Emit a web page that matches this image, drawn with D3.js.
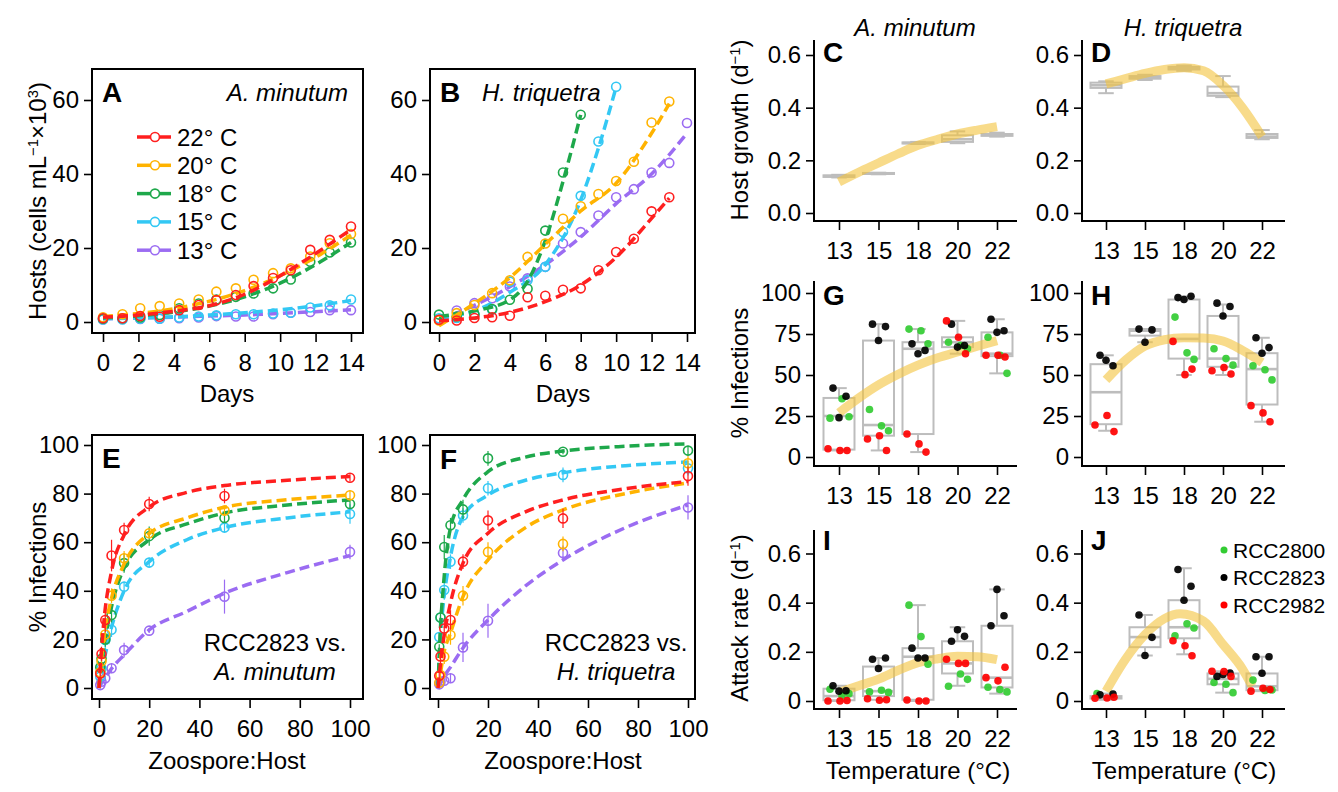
<!DOCTYPE html>
<html>
<head>
<meta charset="utf-8">
<script src="https://cdn.jsdelivr.net/npm/d3@7/dist/d3.min.js"></script>
<style>
  body { margin: 0; background: #fff; }
</style>
</head>
<body>
<svg id="fig" width="1338" height="792"></svg>
<script>
// ---------- values ----------
const temps = ["22° C", "20° C", "18° C", "15° C", "13° C"];

// A: A. minutum hosts (cells mL-1 x10^3) by day, one row per temperature
const daysA = [0, 1.1, 2.1, 3.2, 4.3, 5.4, 6.4, 7.5, 8.5, 9.6, 10.6, 11.7, 12.8, 14];
const hostsA = [
  [1.0, 1.0, 1.6, 1.4, 3.2, 4.6, 5.9, 7.3, 9.7, 11.9, 14.0, 19.5, 22.2, 25.8],
  [1.3, 2.1, 3.7, 4.3, 5.0, 6.1, 8.2, 9.1, 11.4, 13.2, 14.5, 17.7, 21.3, 23.8],
  [0.9, 1.0, 1.2, 1.9, 3.7, 5.0, 6.1, 6.8, 7.7, 9.1, 11.5, 16.3, 18.8, 21.5],
  [0.7, 0.7, 0.9, 0.9, 1.2, 1.5, 1.8, 2.1, 2.1, 2.3, 2.5, 3.9, 4.5, 6.1],
  [0.7, 0.8, 0.8, 0.9, 1.0, 1.2, 1.6, 1.5, 1.5, 2.1, 2.5, 2.7, 3.2, 3.2]
];
const fitDaysA = [0, 2, 4, 6, 8, 10, 12, 14];
const fitA = [
  [1.3, 1.9, 2.9, 4.4, 7.5, 12.5, 18.5, 25.0],
  [1.5, 2.3, 3.6, 5.6, 8.5, 12.5, 17.5, 23.5],
  [1.1, 1.7, 2.7, 4.3, 6.8, 10.5, 15.5, 21.5],
  [0.9, 1.1, 1.4, 1.9, 2.5, 3.3, 4.4, 5.8],
  [0.9, 1.1, 1.3, 1.6, 1.9, 2.3, 2.8, 3.3]
];

// B: H. triquetra hosts by day (days 0,1,2,...)
const daysB = [0, 1, 2, 3, 4, 5, 6, 7, 8, 9, 10, 11, 12, 13, 14];
const hostsB = [
  [0.6, 0.4, 1.1, 1.3, 1.7, 6.7, 7.1, 8.7, 9.1, 14.0, 18.9, 22.5, 29.9, 33.7],
  [0.4, 2.4, 4.6, 7.8, 11.3, 17.6, 21.2, 27.9, 31.3, 34.6, 38.1, 43.3, 53.9, 59.6],
  [2.0, 1.5, 2.0, 3.5, 6.0, 9.0, 24.7, 40.4, 56.0],
  [1.0, 1.1, 2.0, 3.3, 10.9, 11.3, 14.9, 24.3, 34.1, 48.8, 63.6],
  [0.6, 3.1, 5.1, 6.4, 9.6, 11.8, 14.9, 21.2, 24.3, 28.8, 33.7, 35.9, 40.4, 43.0, 53.8]
];
const fitDaysB = [
  [0, 2, 4, 6, 8, 10, 12, 13],
  [0, 2, 4, 6, 8, 10, 12, 13],
  [0, 2, 4, 5, 6, 7, 8],
  [0, 2, 4, 6, 8, 9, 10],
  [0, 2, 4, 6, 8, 10, 12, 14]
];
const fitB = [
  [0.3, 1.1, 2.6, 5.5, 10, 17.5, 28, 33.5],
  [-1, 5, 12, 21, 30, 37.5, 51, 59],
  [1.5, 3, 6, 11, 22, 38, 56],
  [1, 3, 8, 15.5, 33, 47, 63.5],
  [0.5, 4.5, 9.5, 15.5, 23, 32, 40, 51]
];

// E, F: % infections by zoospore:host ratio
const ratios = [0.5, 1, 2.5, 5, 10, 20, 50, 100];
const infE = [
  [6, 14, 28, 54.5, 65, 75.7, 79, 86.5],
  [6.5, 11, 22, 38, 53.4, 63.7, 73, 79.3],
  [8.5, 12, 20, 30, 51.4, 62.5, 70, 75.7],
  [4.7, 8, 19.8, 24, 41.7, 51.6, 66, 71.6],
  [1.2, 2.6, 4, 8.1, 15.6, 23.6, 37.6, 56]
];
const errE = [
  [2, 3, 5, 6.5, 3, 3, 3, 1.5],
  [1, 2, 3, 3, 3, 2, 2, 2],
  [1, 2, 3, 3, 4, 4, 2, 2],
  [1, 2, 4, 3, 2, 2, 2, 4],
  [1, 1, 1, 2, 3, 1, 7, 3]
];
const infF = [
  [5, 13, 24.5, 28, 52, 69, 69.8, 87.2],
  [2.2, 5.3, 12.9, 21.8, 38, 56, 59.3, 92.5],
  [17, 29, 58, 67, 73.5, 94.5, 97.2, 97.7],
  [21, 29, 40.3, 52, 71, 82.2, 87.7, 90.4],
  [1.5, 2.6, 3, 4, 16.7, 27.7, 55.6, 74.3]
];
const errF = [
  [2, 3, 4, 4, 3, 4, 4, 4],
  [1, 2, 3, 4, 4, 4, 3, 3],
  [1, 3, 5, 3, 4, 3, 1, 2],
  [1, 2, 4, 3, 3, 3, 3, 3],
  [1, 1, 1, 2, 6, 7, 3, 5]
];
const fitRatios = [0, 1, 2, 5, 10, 20, 35, 50, 75, 100];
const fitE = [
  [0, 16, 28, 48, 63, 74.5, 80.5, 83.3, 85.5, 87],
  [0, 12, 21, 37, 51, 63.5, 70, 74.4, 77.5, 79.4],
  [0, 10, 17, 33.5, 49.4, 61, 67.5, 72, 75.3, 77.4],
  [0, 7, 11.5, 25, 40, 52, 61, 66, 70, 72.5],
  [0, 2, 3.5, 8, 13.6, 23.9, 31.5, 39, 47.5, 54.5]
];
const fitF = [
  [0, 10, 18.5, 35, 51.4, 63.7, 72.5, 77.4, 82, 85],
  [0, 6, 12.7, 22.6, 37.6, 52.7, 66, 73.3, 80, 84.4],
  [0, 25, 40, 66, 77.5, 89, 95, 97.5, 99.5, 100.5],
  [0, 22, 33.5, 54, 70.5, 79.4, 85.5, 88.6, 91.5, 93],
  [0, 2, 4, 8.6, 16.5, 28, 42, 52.7, 66, 75.3]
];

// C-J: temperature categories, boxplot stats [min, q1, median, q3, max]
const tempCats = ["13", "15", "18", "20", "22"];
const strains = ["RCC2800", "RCC2823", "RCC2982"];

const growthAmin = [[0.135, 0.137, 0.14, 0.143, 0.145], [0.147, 0.149, 0.15, 0.152, 0.153],
  [0.262, 0.264, 0.266, 0.268, 0.27], [0.265, 0.27, 0.28, 0.295, 0.31], [0.29, 0.293, 0.296, 0.3, 0.305]];
const growthHtri = [[0.455, 0.475, 0.485, 0.495, 0.5], [0.505, 0.51, 0.515, 0.52, 0.525],
  [0.54, 0.545, 0.55, 0.555, 0.56], [0.44, 0.445, 0.455, 0.48, 0.52], [0.28, 0.285, 0.29, 0.3, 0.315]];
const infAminBox = [[4, 4.5, 25, 36, 42], [4, 13, 19.5, 71, 81], [3, 14, 66, 70, 78],
  [63, 67, 70, 73, 83], [51, 61.5, 63, 76, 84]];
const infHtriBox = [[16, 20, 39.5, 56.6, 62], [70, 74, 77, 78, 78], [50, 60, 72, 96, 98],
  [50, 55, 60, 86, 93], [21.5, 32, 53.6, 63.3, 72.7]];
const attackAminBox = [[0, 0.003, 0.02, 0.05, 0.062], [0.005, 0.02, 0.04, 0.14, 0.175],
  [0, 0.005, 0.18, 0.215, 0.39], [0.062, 0.112, 0.153, 0.243, 0.3], [0.03, 0.055, 0.095, 0.306, 0.454]];
const attackHtriBox = [[0.005, 0.01, 0.015, 0.02, 0.03], [0.185, 0.219, 0.26, 0.3, 0.35],
  [0.19, 0.255, 0.3, 0.41, 0.54], [0.034, 0.068, 0.09, 0.112, 0.121], [0.04, 0.044, 0.06, 0.112, 0.18]];

// replicate values: [temperature][strain RCC2800, RCC2823, RCC2982]
const infAminDots = [
  [[23.7, 35.5, 24.5], [42, 37, 24], [5, 4, 4]],
  [[29, 19, 16], [81, 79.5, 71], [11, 13, 4]],
  [[78, 77, 69], [69, 65, 63], [14, 8, 3]],
  [[70, 68, 66], [81, 68, 67], [83, 73, 63]],
  [[73, 62, 51], [84, 77, 76], [62, 62, 61]]
];
const infHtriDots = [
  [[], [62, 55.6, 59], [19.5, 25.3, 15.5]],
  [[], [78, 77.5, 70], []],
  [[85.3, 63.5, 59.5], [97.2, 98, 96], [70.5, 50.2, 53.6]],
  [[66, 60, 56], [93.8, 91.8, 86], [52.6, 54.6, 50.6]],
  [[55.6, 53.2, 47], [72.7, 66.7, 63.3], [31.3, 26.9, 21.5]]
];
const attackAminDots = [
  [[0.048, 0.022, 0.03], [0.062, 0.042, 0.04], [0, 0, 0.002]],
  [[0.037, 0.044, 0.035], [0.17, 0.175, 0.132], [0.009, 0.003, 0.005]],
  [[0.39, 0.262, 0.15], [0.215, 0.175, 0.175], [0.004, 0, 0]],
  [[0.06, 0.11, 0.088], [0.243, 0.263, 0.29], [0.17, 0.153, 0.153]],
  [[0.056, 0.047, 0.037], [0.306, 0.347, 0.454], [0.095, 0.082, 0.137]]
];
const attackHtriDots = [
  [[0.03], [0.025, 0.028], [0.011, 0.012, 0.015]],
  [[], [0.35, 0.259, 0.185], []],
  [[0.265, 0.314, 0.297], [0.535, 0.467, 0.41], [0.245, 0.225, 0.184]],
  [[0.075, 0.068, 0.034], [0.1, 0.114, 0.108], [0.121, 0.12, 0.1]],
  [[0.085, 0.043, 0.045], [0.18, 0.18, 0.113], [0.04, 0.052, 0.047]]
];

// yellow trend curves, x in category index units (0 = 13 °C ... 4 = 22 °C)
const trendPos = [0, 0.5, 1, 1.5, 2, 2.5, 3, 3.5, 4];
const trendC = [0.118, 0.155, 0.19, 0.225, 0.257, 0.28, 0.3, 0.315, 0.328];
const trendD = [0.49, 0.51, 0.53, 0.545, 0.552, 0.54, 0.485, 0.4, 0.29];
const trendG = [27, 36, 44, 50.5, 56, 60.5, 64, 67.5, 71];
const trendH = [47, 59, 67.7, 71.5, 72.7, 72.5, 70.7, 65, 57.6];
const trendI = [0.035, 0.062, 0.089, 0.125, 0.156, 0.172, 0.182, 0.18, 0.168];
const trendPosJ = [0, 0.5, 1, 1.5, 1.9, 2.5, 3, 3.5, 3.75];
const trendJ = [0.04, 0.17, 0.27, 0.335, 0.355, 0.325, 0.23, 0.13, 0.06];

// ---------- styles ----------
const FONT = '"Liberation Sans", Arial, Helvetica, sans-serif';
const tempColors = ["#ff1f1f", "#ffb300", "#1ea84b", "#33c8f4", "#9b6cf2"];
const strainColors = ["#33cc33", "#000000", "#ff0000"];
const jitter = [-9, 3, 10, -6, 7, 0, -11, 1, 8];

const svg = d3.select("#fig");

function styleAxis(g) {
  g.attr("font-size", 24).attr("font-family", FONT);
  g.selectAll(".tick line").attr("stroke", "#000").attr("stroke-width", 1.6);
  g.selectAll(".tick text").attr("fill", "#000");
  g.select(".domain").remove();
}

// text with optional superscript parts: [[str, isSup], ...]
function richText(x, y, parts, o = {}) {
  const size = o.size || 24;
  const t = svg.append("text")
    .attr("font-family", FONT)
    .attr("font-size", size)
    .attr("text-anchor", o.anchor || "middle")
    .attr("font-style", o.italic ? "italic" : null)
    .attr("font-weight", o.bold ? "bold" : null)
    .attr("transform", `translate(${x},${y})` + (o.rotate ? " rotate(-90)" : ""));
  parts.forEach(p => {
    const s = t.append("tspan").text(p[0]);
    if (p[1]) s.attr("baseline-shift", "super").attr("font-size", size * 0.62);
  });
  return t;
}

// ---------- A, B, E, F: framed panels with dashed fits ----------
function curvePanel(c) {
  svg.append("rect")
    .attr("x", c.box[0]).attr("y", c.box[2])
    .attr("width", c.box[1] - c.box[0]).attr("height", c.box[3] - c.box[2])
    .attr("fill", "none").attr("stroke", "#000").attr("stroke-width", 2);

  svg.append("g").attr("transform", `translate(0,${c.box[3]})`)
    .call(d3.axisBottom(c.x).tickValues(c.xTicks).tickSize(9).tickPadding(12))
    .call(styleAxis);
  svg.append("g").attr("transform", `translate(${c.box[0]},0)`)
    .call(d3.axisLeft(c.y).tickValues(c.yTicks).tickSize(8).tickPadding(5))
    .call(styleAxis);

  const line = d3.line().x(d => c.x(d[0])).y(d => c.y(d[1])).curve(d3.curveMonotoneX);

  for (let k = c.series.length - 1; k >= 0; k--) {
    const col = tempColors[k];
    const fx = Array.isArray(c.fitX[0]) ? c.fitX[k] : c.fitX;
    svg.append("path")
      .datum(fx.map((t, i) => [t, c.fits[k][i]]))
      .attr("d", line)
      .attr("fill", "none").attr("stroke", col)
      .attr("stroke-width", 3.5).attr("stroke-dasharray", "10,5");

    const pts = c.series[k].map((v, i) => ({ t: c.xs[i], v: v, e: c.err ? c.err[k][i] : 0 }));
    svg.append("g").selectAll("line").data(pts.filter(d => d.e > 0)).enter().append("line")
      .attr("x1", d => c.x(d.t)).attr("x2", d => c.x(d.t))
      .attr("y1", d => c.y(d.v - d.e)).attr("y2", d => c.y(d.v + d.e))
      .attr("stroke", col).attr("stroke-width", 1.2);
    svg.append("g").selectAll("circle").data(pts).enter().append("circle")
      .attr("cx", d => c.x(d.t)).attr("cy", d => c.y(d.v)).attr("r", 4.5)
      .attr("fill", "none").attr("stroke", col).attr("stroke-width", 1.6);
  }
  richText(c.box[0] + 10, c.letterY, [[c.letter]], { anchor: "start", bold: true, size: 28 });
}

const yHosts = d3.scaleLinear([0, 60], [322, 100]);
curvePanel({
  box: [92, 363, 69, 333], x: d3.scaleLinear([0, 14], [103, 351]), y: yHosts,
  xTicks: d3.range(0, 15, 2), yTicks: [0, 20, 40, 60],
  series: hostsA, xs: daysA, fitX: fitDaysA, fits: fitA, letter: "A", letterY: 102
});
curvePanel({
  box: [430, 695, 69, 333], x: d3.scaleLinear([0, 14], [439, 687]), y: yHosts,
  xTicks: d3.range(0, 15, 2), yTicks: [0, 20, 40, 60],
  series: hostsB, xs: daysB, fitX: fitDaysB, fits: fitB, letter: "B", letterY: 102
});
const yInf = d3.scaleLinear([0, 100], [688, 445]);
curvePanel({
  box: [92, 363, 435, 699], x: d3.scaleLinear([0, 100], [99, 350]), y: yInf,
  xTicks: d3.range(0, 101, 20), yTicks: d3.range(0, 101, 20),
  series: infE, err: errE, xs: ratios, fitX: fitRatios, fits: fitE, letter: "E", letterY: 468
});
curvePanel({
  box: [430, 695, 435, 699], x: d3.scaleLinear([0, 100], [438, 688]), y: yInf,
  xTicks: d3.range(0, 101, 20), yTicks: d3.range(0, 101, 20),
  series: infF, err: errF, xs: ratios, fitX: fitRatios, fits: fitF, letter: "F", letterY: 469
});

// species labels inside A, B and strain notes in E, F
richText(348, 101, [["A. minutum"]], { anchor: "end", italic: true });
richText(482, 101, [["H. triquetra"]], { anchor: "start", italic: true });
richText(275, 651, [["RCC2823 vs."]]);
richText(275, 680, [["A. minutum"]], { italic: true });
richText(616, 651, [["RCC2823 vs."]]);
richText(616, 680, [["H. triquetra"]], { italic: true });

// legend in A
temps.forEach((lab, k) => {
  const yy = 137 + k * 28.3;
  const col = tempColors[k];
  svg.append("line").attr("x1", 137).attr("x2", 150).attr("y1", yy).attr("y2", yy)
    .attr("stroke", col).attr("stroke-width", 3.5);
  svg.append("line").attr("x1", 160).attr("x2", 171).attr("y1", yy).attr("y2", yy)
    .attr("stroke", col).attr("stroke-width", 3.5);
  svg.append("circle").attr("cx", 155).attr("cy", yy).attr("r", 4.5)
    .attr("fill", "#fff").attr("stroke", col).attr("stroke-width", 1.6);
  richText(177, yy + 8.5, [[lab]], { anchor: "start" });
});

// axis titles, left half
richText(46, 201, [["Hosts (cells mL"], ["\u22121", true], ["\u00d710"], ["3", true], [")"]], { rotate: true });
richText(46, 567, [["% Infections"]], { rotate: true });
richText(227, 402, [["Days"]]);
richText(563, 402, [["Days"]]);
richText(227, 769, [["Zoospore:Host"]]);
richText(563, 769, [["Zoospore:Host"]]);

// ---------- C-J: boxplot panels ----------
const col1 = { axis: 814, x0: 839, x1: 997, end: 1017 };
const col2 = { axis: 1082, x0: 1106, x1: 1262, end: 1285 };
const row1 = { top: 40, bottom: 221, y0: 213, y1: 55, vmax: 0.6, ticks: [0, 0.2, 0.4, 0.6], fmt: d3.format(".1f") };
const row2 = { top: 281, bottom: 466, y0: 457, y1: 293, vmax: 100, ticks: [0, 25, 50, 75, 100], fmt: d3.format("d") };
const row3 = { top: 530, bottom: 709, y0: 701, y1: 553.5, vmax: 0.6, ticks: [0, 0.2, 0.4, 0.6], fmt: d => d === 0 ? "0" : d3.format(".1f")(d) };

function boxPanel(col, row, stats, tPos, trend, dots, letter) {
  const x = d3.scalePoint(tempCats, [col.x0, col.x1]);
  const xp = d3.scaleLinear([0, tempCats.length - 1], [col.x0, col.x1]);
  const y = d3.scaleLinear([0, row.vmax], [row.y0, row.y1]);
  const g = svg.append("g");

  g.append("path").attr("d", `M${col.axis},${row.top}V${row.bottom}H${col.end}`)
    .attr("fill", "none").attr("stroke", "#000").attr("stroke-width", 2);
  g.append("g").attr("transform", `translate(${col.axis},0)`)
    .call(d3.axisLeft(y).tickValues(row.ticks).tickFormat(row.fmt).tickSize(8).tickPadding(5))
    .call(styleAxis);
  g.append("g").attr("transform", `translate(0,${row.bottom})`)
    .call(d3.axisBottom(x).tickSize(9).tickPadding(12))
    .call(styleAxis);

  const bw = 31, gray = "#bdbdbd";
  stats.forEach((s, i) => {
    const cx = x(tempCats[i]);
    const b = g.append("g").attr("stroke", gray).attr("fill", "none").attr("stroke-width", 2);
    b.append("line").attr("x1", cx).attr("x2", cx).attr("y1", y(s[0])).attr("y2", y(s[1]));
    b.append("line").attr("x1", cx).attr("x2", cx).attr("y1", y(s[3])).attr("y2", y(s[4]));
    b.append("line").attr("x1", cx - bw / 4).attr("x2", cx + bw / 4).attr("y1", y(s[0])).attr("y2", y(s[0]));
    b.append("line").attr("x1", cx - bw / 4).attr("x2", cx + bw / 4).attr("y1", y(s[4])).attr("y2", y(s[4]));
    b.append("rect").attr("x", cx - bw / 2).attr("width", bw)
      .attr("y", y(s[3])).attr("height", Math.max(1, y(s[1]) - y(s[3])));
    b.append("line").attr("x1", cx - bw / 2).attr("x2", cx + bw / 2).attr("y1", y(s[2])).attr("y2", y(s[2]))
      .attr("stroke-width", 2.6);
  });

  g.append("path")
    .datum(tPos.map((p, i) => [p, trend[i]]))
    .attr("d", d3.line().x(d => xp(d[0])).y(d => y(d[1])).curve(d3.curveMonotoneX))
    .attr("fill", "none").attr("stroke", "#f3c33c").attr("stroke-opacity", 0.6)
    .attr("stroke-width", 9);

  if (dots) {
    dots.forEach((byStrain, ci) => {
      byStrain.forEach((vals, si) => {
        vals.forEach((v, k) => {
          g.append("circle")
            .attr("cx", x(tempCats[ci]) + jitter[si * 3 + k])
            .attr("cy", y(v)).attr("r", 3.8)
            .attr("fill", strainColors[si]).attr("fill-opacity", 0.92);
        });
      });
    });
  }
  const ly = row === row1 ? 62 : row === row2 ? 305 : 550;
  richText(col.axis + 9, ly, [[letter]], { anchor: "start", bold: true, size: 28 });
}

boxPanel(col1, row1, growthAmin, trendPos, trendC, null, "C");
boxPanel(col2, row1, growthHtri, trendPos, trendD, null, "D");
boxPanel(col1, row2, infAminBox, trendPos, trendG, infAminDots, "G");
boxPanel(col2, row2, infHtriBox, trendPos, trendH, infHtriDots, "H");
boxPanel(col1, row3, attackAminBox, trendPos, trendI, attackAminDots, "I");
boxPanel(col2, row3, attackHtriBox, trendPosJ, trendJ, attackHtriDots, "J");

// column titles and axis titles, right half
richText(915, 36, [["A. minutum"]], { italic: true });
richText(1183, 36, [["H. triquetra"]], { italic: true });
richText(748, 130, [["Host growth (d"], ["\u22121", true], [")"]], { rotate: true });
richText(748, 373, [["% Infections"]], { rotate: true });
richText(748, 618, [["Attack rate (d"], ["\u22121", true], [")"]], { rotate: true });
richText(918, 779, [["Temperature (\u00b0C)"]]);
richText(1184, 779, [["Temperature (\u00b0C)"]]);

// strain legend in J
strains.forEach((s, i) => {
  const yy = 550 + i * 27.5;
  svg.append("circle").attr("cx", 1224).attr("cy", yy).attr("r", 3.5).attr("fill", strainColors[i]);
  richText(1233, yy + 7.5, [[s]], { anchor: "start", size: 21 });
});
</script>
</body>
</html>
